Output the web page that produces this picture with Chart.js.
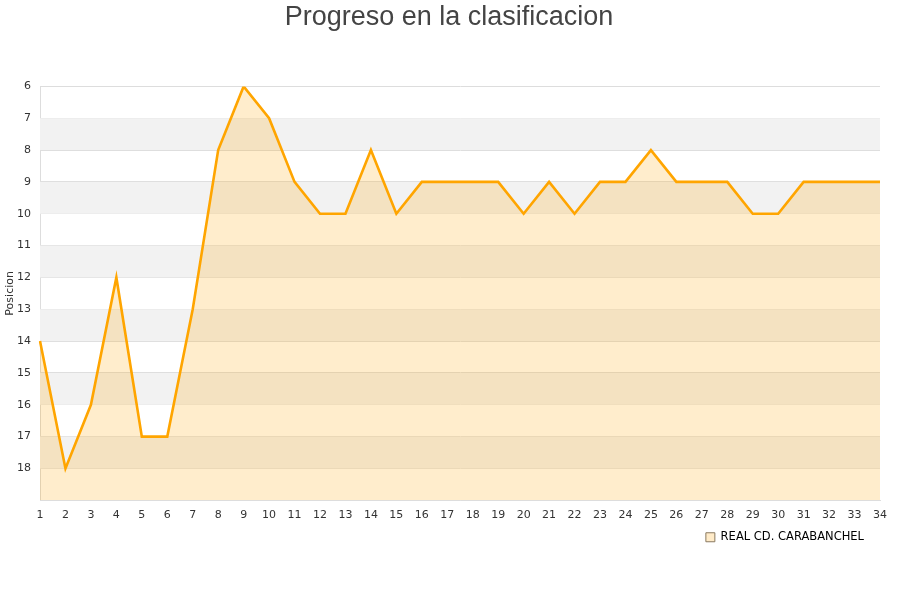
<!DOCTYPE html>
<html lang="es">
<head>
    <meta charset="UTF-8">
    <title>Progreso en la clasificacion</title>
    <script src="https://cdn.jsdelivr.net/npm/chart.js"></script>
    <style>
        body { margin: 0; background: #fff; }
    </style>
</head>
<body>
    <canvas id="myChart" width="900" height="600"></canvas>
    <script>
        const jornadas = ['1','2','3','4','5','6','7','8','9','10','11','12','13','14','15','16','17',
                          '18','19','20','21','22','23','24','25','26','27','28','29','30','31','32','33','34'];
        const posiciones = [14, 18, 16, 12, 17, 17, 13, 8, 6, 7, 9, 10, 10, 8, 10, 9, 9,
                            9, 9, 10, 9, 10, 9, 9, 8, 9, 9, 9, 10, 10, 9, 9, 9, 9];
        const equipo = 'REAL CD. CARABANCHEL';
        const posMin = 6;
        const posMax = 19;

        // alternating grey bands behind the plot
        const bandas = {
            id: 'bandas',
            beforeDatasetsDraw(chart) {
                const { ctx, chartArea, scales } = chart;
                const y = scales.y;
                ctx.save();
                ctx.fillStyle = '#f2f2f2';
                for (let v = posMin + 1; v < posMax; v += 2) {
                    const top = y.getPixelForValue(v);
                    const bottom = y.getPixelForValue(v + 1);
                    ctx.fillRect(chartArea.left, top, chartArea.right - chartArea.left, bottom - top);
                }
                ctx.restore();
            }
        };

        // pull the legend a little closer to the axis
        const subirLeyenda = {
            id: 'subirLeyenda',
            afterLayout(chart) {
                chart.legend.top -= 14;
                chart.legend.bottom -= 14;
            }
        };

        const ctx = document.getElementById('myChart').getContext('2d');
        const myChart = new Chart(ctx, {
            type: 'line',
            data: {
                labels: jornadas,
                datasets: [{
                    label: equipo,
                    data: posiciones,
                    borderColor: '#FFA500',
                    backgroundColor: 'rgba(255,165,0,0.2)',
                    borderWidth: 2.6,
                    pointRadius: 0,
                    tension: 0,
                    fill: { value: posMax }
                }]
            },
            options: {
                responsive: false,
                animation: false,
                layout: { padding: { left: 9, right: 11, top: 0, bottom: 33 } },
                plugins: {
                    title: {
                        display: true,
                        text: 'Progreso en la clasificacion',
                        color: '#444',
                        font: { family: 'Liberation Sans', size: 27, weight: 'normal' },
                        padding: { top: 1, bottom: 53 }
                    },
                    legend: {
                        position: 'bottom',
                        align: 'end',
                        fullSize: false,
                        labels: {
                            color: '#111',
                            font: { family: 'DejaVu Sans', size: 11.5 },
                            boxWidth: 9,
                            boxHeight: 9,
                            padding: 16,
                            generateLabels: (chart) => [{
                                text: equipo,
                                fillStyle: '#FFEBC8',
                                strokeStyle: '#8a7a60',
                                lineWidth: 1,
                                datasetIndex: 0
                            }]
                        }
                    },
                    tooltip: { enabled: false }
                },
                scales: {
                    x: {
                        offset: false,
                        afterFit: (scale) => { scale.paddingRight = 20; },
                        grid: { display: false, drawTicks: false },
                        border: { color: '#ddd' },
                        ticks: { color: '#333', font: { family: 'DejaVu Sans', size: 11 }, maxRotation: 0, autoSkip: false, padding: 8 }
                    },
                    y: {
                        reverse: true,
                        min: posMin,
                        max: posMax,
                        afterFit: (scale) => { scale.width = 31; },
                        title: { display: true, text: 'Posicion', color: '#333', font: { family: 'DejaVu Sans', size: 11 }, padding: { top: -5, bottom: 0 } },
                        grid: { color: '#ddd', drawTicks: false },
                        border: { color: '#ddd' },
                        ticks: {
                            stepSize: 1,
                            color: '#333',
                            font: { family: 'DejaVu Sans', size: 11 },
                            padding: 9,
                            callback: (v) => v === posMax ? '' : v
                        }
                    }
                }
            },
            plugins: [bandas, subirLeyenda]
        });
    </script>
</body>
</html>
